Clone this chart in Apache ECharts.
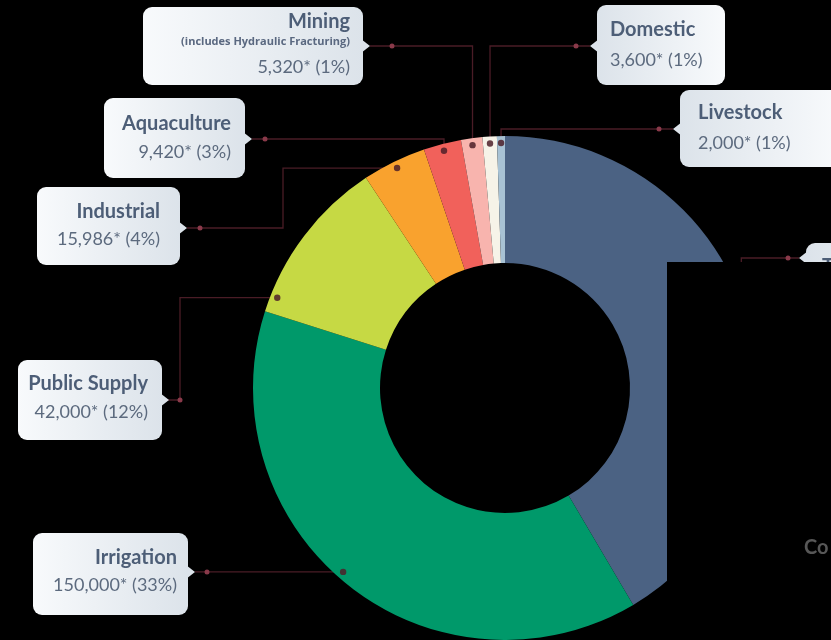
<!DOCTYPE html>
<html><head><meta charset="utf-8">
<script src="https://cdn.jsdelivr.net/npm/echarts@6/dist/echarts.min.js"></script>
<style>html,body{margin:0;padding:0;background:#000;}#c{width:831px;height:640px;}</style>
</head><body><div id="c"></div>
<script>
// ---- data ----
const categories = ['Thermoelectric', 'Irrigation', 'Public Supply', 'Industrial', 'Aquaculture', 'Mining', 'Domestic', 'Livestock'];
const values = [162000, 150000, 42000, 15986, 9420, 5320, 3600, 2000];
const percentLabels = ['41%', '33%', '12%', '4%', '3%', '1%', '1%', '1%'];
const notes = ['', '', '', '', '', '(includes Hydraulic Fracturing)', '', ''];
const colors = ['#4b6283', '#00996a', '#c6d944', '#f9a22e', '#f1615b', '#f8b4ae', '#f6f3e8', '#a8c2d4'];

// ---- layout ----
const CX = 505, CY = 388, R_IN = 125, R_OUT = 252, R_ANCHOR = 245;
const FONT = 'Lato, "Open Sans", sans-serif';
const boxes = [
  {x: 806, y: 243, w: 160, pad: [10, 10, 10, 16], lh: [28, 32], ta: 'left', side: 'left', ny: 258, frac: 0.5, route: [['ax', 258], [799, 258]], dot: [788, 258]},
  {x: 33, y: 533, w: 155, pad: [11, 11, 17, 10], lh: [28, 26], ta: 'right', side: 'right', ny: 572, frac: 0.52, route: [[195, 'ay']], dot: [207, 'ay']},
  {x: 18, y: 360, w: 144, pad: [10, 14, 14, 10], lh: [28, 28], ta: 'right', side: 'right', ny: 400, frac: 0.1, route: [[180, 'ay'], [180, 400], [167, 400]], dot: [180, 400]},
  {x: 37, y: 187, w: 143, pad: [11, 20, 13, 10], lh: [28, 26], ta: 'right', side: 'right', ny: 228, frac: 0.5, route: [[283, 'ay'], [283, 228], [187, 228]], dot: [200, 228]},
  {x: 104, y: 98, w: 141, pad: [12, 14, 12, 10], lh: [28, 28], ta: 'right', side: 'right', ny: 139, frac: 0.5, route: [['ax', 139], [252, 139]], dot: [265, 139]},
  {x: 143, y: 7, w: 220, pad: [3, 13, 1, 10], lh: [24, 16, 34], ta: 'right', side: 'right', ny: 46, frac: 0.5, route: [['ax', 46], [370, 46]], dot: [392, 46]},
  {x: 597, y: 5, w: 128, pad: [11, 10, 9, 13], lh: [28, 32], ta: 'left', side: 'left', ny: 46, frac: 0.5, route: [['ax', 46], [590, 46]], dot: [576, 46]},
  {x: 680, y: 90, w: 160, pad: [9, 10, 8, 18], lh: [28, 32], ta: 'left', side: 'left', ny: 129, frac: 0.5, route: [['ax', 129], [673, 129]], dot: [659, 129]}
];

const total = values.reduce((a, b) => a + b, 0);
let cum = 0;
const anchors = values.map((v, i) => {
  const f = (cum + v * boxes[i].frac) / total;
  cum += v;
  const a = f * 2 * Math.PI;
  return [CX + R_ANCHOR * Math.sin(a), CY - R_ANCHOR * Math.cos(a)];
});
function resolve(p, a) { return [p[0] === 'ax' ? a[0] : p[0], p[1] === 'ay' ? a[1] : p[1]]; }

function fmt(n) { return n.toLocaleString('en-US'); }

const data = categories.map((name, i) => {
  const b = boxes[i];
  const light = '#f8fafc', dark = '#dce3ea';
  const grad = new echarts.graphic.LinearGradient(0, 0, 1, 0, b.side === 'right'
    ? [{offset: 0, color: light}, {offset: 1, color: dark}]
    : [{offset: 0, color: dark}, {offset: 1, color: light}]);
  let li = 0;
  const rich = {
    t: {fontFamily: FONT, fontSize: 20, fontWeight: 'bold', color: '#4d5e77', lineHeight: b.lh[li++], align: b.ta}
  };
  let txt = '{t|' + name + '}';
  if (notes[i]) {
    rich.s = {fontFamily: '"Open Sans", sans-serif', fontSize: 11, fontWeight: 'bold', color: '#5a6880', lineHeight: b.lh[li++], align: b.ta};
    txt += '\n{s|' + notes[i] + '}';
  }
  rich.v = {fontFamily: FONT, fontSize: 18, color: '#5c6a7e', lineHeight: b.lh[li++], align: b.ta};
  txt += '\n{v|' + fmt(values[i]) + '* (' + percentLabels[i] + ')}';
  return {
    name, value: values[i],
    itemStyle: {color: colors[i]},
    label: {
      formatter: txt,
      width: b.w - b.pad[1] - b.pad[3],
      padding: b.pad,
      backgroundColor: grad,
      borderRadius: 9,
      rich
    }
  };
});

const graphics = [];
boxes.forEach((b, i) => {
  const a = anchors[i];
  const bx = b.side === 'right' ? b.x + b.w : b.x;
  const d = b.side === 'right' ? 1 : -1;
  graphics.push({type: 'polygon', z: 3, shape: {points: [[bx - d * 2, b.ny - 7], [bx + d * 7, b.ny], [bx - d * 2, b.ny + 7]]},
    style: {fill: '#dce3ea'}});
  graphics.push({type: 'circle', z: 10, shape: {cx: a[0], cy: a[1], r: 3.2}, style: {fill: '#4e2029', opacity: 0.85}});
  const dp = resolve(b.dot, a);
  graphics.push({type: 'circle', z: 10, shape: {cx: dp[0], cy: dp[1], r: 2.5}, style: {fill: '#8a3a4a'}});
});
// occluding panel of the reference image
graphics.push({type: 'rect', z: 100, shape: {x: 667, y: 262, width: 164, height: 378}, style: {fill: '#000'}});
graphics.push({type: 'text', z: 101, x: 804, y: 548, style: {text: 'Co', fill: '#575757', font: 'bold 20px ' + FONT, verticalAlign: 'middle'}});

const chart = echarts.init(document.getElementById('c'));
chart.setOption({
  backgroundColor: '#000',
  animation: false,
  series: [{
    type: 'pie',
    center: [CX, CY],
    radius: [R_IN, R_OUT],
    startAngle: 90,
    clockwise: true,
    avoidLabelOverlap: false,
    emphasis: {disabled: true},
    itemStyle: {borderWidth: 0},
    label: {show: true, position: 'outside'},
    labelLine: {show: true, smooth: false, lineStyle: {color: '#4a1c26', width: 1.3}},
    labelLayout: function (params) {
      const i = params.dataIndex;
      const b = boxes[i];
      const a = anchors[i];
      const pts = [a].concat(b.route.map(p => resolve(p, a)));
      return {x: b.x, y: b.y, align: 'left', verticalAlign: 'top', labelLinePoints: pts};
    },
    data
  }],
  graphic: {elements: graphics}
});
</script>
</body></html>
